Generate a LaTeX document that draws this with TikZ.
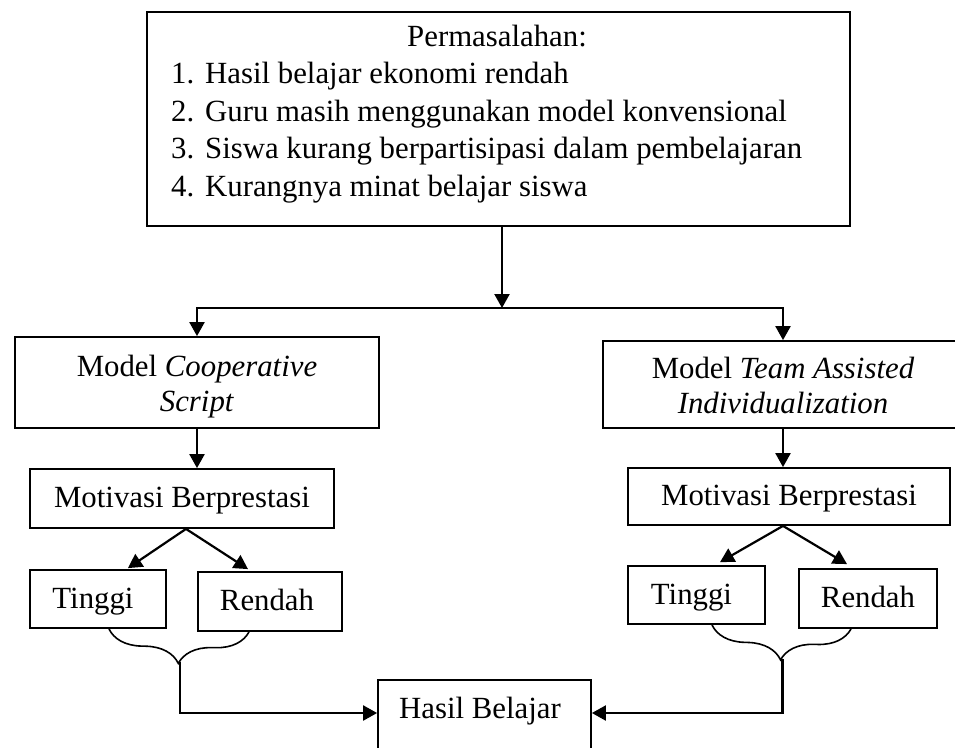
\documentclass[tikz,border=0pt]{standalone}
\usepackage{fontspec}
\setmainfont{Liberation Serif}
\usetikzlibrary{calc,arrows.meta,decorations.pathreplacing}
\newcommand{\hurufbesar}{\fontsize{30.8pt}{35pt}\selectfont}
\newcommand{\atas}{\rule{0pt}{30pt}}
\newcommand{\bawah}{\rule[-7pt]{0pt}{7pt}}

\begin{document}
\begin{tikzpicture}[x=1pt,y=-1pt,
    kotak/.style={draw,line width=1.8pt,inner sep=0pt,align=center,font=\hurufbesar},
    satu/.style={kotak,text height=22pt,text depth=4pt},
    tulisan/.style={inner sep=0pt,font=\hurufbesar},
    panah/.style={line width=2.2pt,-{Triangle[length=14pt,width=15pt]}},
    kurung/.style={line width=1.6pt,decorate,decoration={brace,mirror,amplitude=33pt}}]
  \useasboundingbox (0,0) rectangle (955,747);
  \clip (0,0) rectangle (955,747);

  %% Kotak permasalahan di atas
  \node[kotak,minimum width=703pt,minimum height=214pt] (masalah) at (498.5,119) {};
  \node[tulisan,anchor=base] (judul) at (497,46) {Permasalahan:};
  \foreach \n/\teks in {1/Hasil belajar ekonomi rendah,
                        2/Guru masih menggunakan model konvensional,
                        3/Siswa kurang berpartisipasi dalam pembelajaran,
                        4/Kurangnya minat belajar siswa}
  {
    \node[tulisan,anchor=base west] (item\n) at (171,46+37.5*\n) {\makebox[34pt][l]{\n.}\teks};
  }

  %% Dua model pembelajaran
  \node[kotak,minimum width=364pt,minimum height=91pt] (modelA) at (197,382.5)
    {\atas Model \textit{Cooperative}\\\bawah\textit{Script}};
  \node[kotak,minimum width=360pt,minimum height=87pt] (modelB) at (783,384.5)
    {\atas Model \textit{Team Assisted}\\\bawah\textit{Individualization}};

  %% Motivasi berprestasi, tinggi dan rendah
  \node[satu,minimum width=304pt,minimum height=59pt] (motivasiA) at (182,498.5) {Motivasi Berprestasi};
  \node[satu,minimum width=322pt,minimum height=57pt] (motivasiB) at (789,496.5) {Motivasi Berprestasi};
  \node[satu,minimum width=136pt,minimum height=58pt] (tinggiA) at (98,599) {Tinggi\hspace*{10pt}};
  \node[satu,minimum width=144pt,minimum height=59pt] (rendahA) at (270,601.5) {Rendah\hspace*{6pt}};
  \node[satu,minimum width=137pt,minimum height=58pt] (tinggiB) at (696.5,595) {Tinggi\hspace*{10pt}};
  \node[satu,minimum width=138pt,minimum height=59pt] (rendahB) at (868,598.5) {Rendah};

  %% Hasil belajar (kotak terpotong di bawah)
  \node[kotak,minimum width=213pt,minimum height=100pt,anchor=north] (hasil) at (484.5,679) {};
  \node[tulisan,anchor=base] (hasilTeks) at (480,718) {Hasil Belajar};

  %% Percabangan dari permasalahan
  \coordinate (cabang) at (502,308);
  \draw[panah] (masalah.south -| cabang) -- (cabang);
  \draw[panah] (cabang) -| (modelA.north);
  \draw[panah] (cabang) -| (modelB.north);
  \draw[panah] (modelA.south) -- (modelA.south |- motivasiA.north);
  \draw[panah] (modelB.south) -- (modelB.south |- motivasiB.north);

  %% Motivasi ke tinggi / rendah
  \draw[panah] ($(motivasiA.south)+(4,0)$) -- ($(tinggiA.north)+(30,-1)$);
  \draw[panah] ($(motivasiA.south)+(4,0)$) -- ($(rendahA.north)+(-22,-2)$);
  \draw[panah] ($(motivasiB.south)+(-6,0)$) -- ($(tinggiB.north)+(23.5,-3)$);
  \draw[panah] ($(motivasiB.south)+(-6,0)$) -- ($(rendahB.north)+(-21,-4)$);

  %% Kurung kurawal dan panah ke hasil belajar
  \draw[kurung] ($(tinggiA.south)+(11,0)$) -- ($(rendahA.south)+(-21,0)$);
  \draw[kurung] ($(tinggiB.south)+(15.5,0)$) -- ($(rendahB.south)+(-17,0)$);
  \coordinate (pucukA) at (179.7,662);
  \coordinate (pucukB) at (782.4,659);
  \coordinate (masuk) at (484.5,713);
  \draw[panah] (pucukA) |- (hasil.west |- masuk);
  \draw[panah] (pucukB) |- (hasil.east |- masuk);
\end{tikzpicture}
\end{document}
